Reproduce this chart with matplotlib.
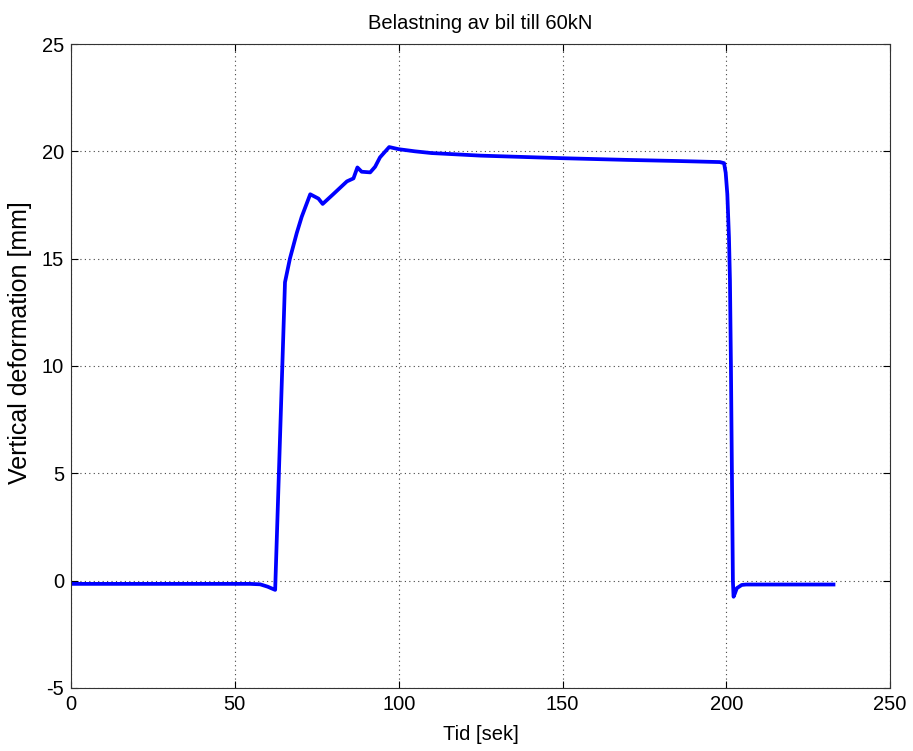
import numpy as np
import matplotlib.pyplot as plt

plt.rcParams['font.family'] = ['Liberation Sans', 'DejaVu Sans']
plt.rcParams['axes.unicode_minus'] = False

# time [s] and vertical deformation [mm]
tid = [0, 30, 54.6, 57.7, 60.0, 62.3, 65.3, 66.8, 68.9, 70.4,
       73.0, 75.5, 76.8, 80.0, 84.2, 86.2, 87.4, 88.7, 91.3, 92.8, 94.3,
       97.1, 100.0, 105.0, 110.0, 125.0, 150.0, 170.0, 185.0, 198.0,
       199.3, 199.8, 200.3, 200.8, 201.1, 201.4, 201.7, 202.0, 202.2,
       202.6, 203.2, 204.7, 206.0, 232.7]
deformation = [-0.15, -0.15, -0.15, -0.17, -0.28, -0.43, 13.9,
               15.0, 16.2, 16.95, 18.0, 17.8, 17.55, 18.0, 18.6, 18.74,
               19.25, 19.05, 19.02, 19.28, 19.72, 20.2, 20.1, 20.0, 19.92,
               19.8, 19.68, 19.6, 19.55, 19.5, 19.45, 19.0, 18.0, 16.0,
               14.0, 10.0, 5.0, 0.0, -0.75, -0.6, -0.35, -0.2, -0.18, -0.18]

fig = plt.figure(figsize=(9.13, 7.51), dpi=100)
ax = fig.add_axes([0.0778, 0.0839, 0.8972, 0.8575])

ax.plot(tid, deformation, color=(0, 0, 1), linewidth=2.7)

ax.set_xlim(0, 250)
ax.set_ylim(-5, 25)
ax.set_xticks(np.arange(0, 251, 50))
ax.set_yticks(np.arange(-5, 26, 5))
ax.grid(True, linestyle=(0, (1, 3)), color='#444444', linewidth=0.8)
ax.tick_params(direction='in', top=True, right=True, labelsize=14.5,
               length=5, pad=5)
for s in ax.spines.values():
    s.set_linewidth(0.8)
    s.set_color('#333333')

ax.set_title('Belastning av bil till 60kN', fontsize=14.5, pad=11)
ax.set_xlabel('Tid [sek]', fontsize=14.5, labelpad=8)
ax.set_ylabel('Vertical deformation [mm]', fontsize=18)
ax.yaxis.set_label_coords(-0.048, 0.536)

fig.savefig('out.png', dpi=100)
